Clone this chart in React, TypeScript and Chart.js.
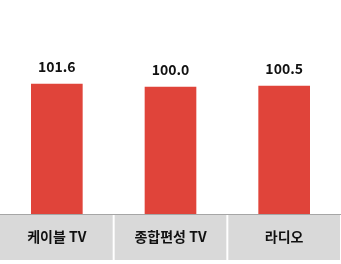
import React, { useEffect, useRef } from "react";
import { Chart, registerables } from "chart.js";

Chart.register(...registerables);

const categories: string[] = ["케이블 TV", "종합편성 TV", "라디오"];
const values: number[] = [101.6, 100.0, 100.5];
const valueLabels: string[] = ["101.6", "100.0", "100.5"];

const FONT = "'Noto Sans CJK KR', 'Noto Sans', sans-serif";

const cellPlugin = {
  id: "cells",
  beforeDraw(chart: any) {
    const x = chart.scales.x;
    const ctx = chart.ctx;
    const n = categories.length;
    const step = (x.right - x.left) / n;
    ctx.save();
    ctx.fillStyle = "#d9d9d9";
    for (let i = 0; i < n; i++) {
      const c = x.getPixelForValue(i);
      const l = c - step / 2 + (i === 0 ? 0 : 1);
      const r = c + step / 2 - 1;
      ctx.fillRect(l, x.top + 1, r - l, 45);
    }
    ctx.restore();
  },
  afterDatasetsDraw(chart: any) {
    const ctx = chart.ctx;
    const meta = chart.getDatasetMeta(0);
    ctx.save();
    ctx.fillStyle = "#111";
    ctx.font = `bold 14px ${FONT}`;
    ctx.textAlign = "center";
    ctx.textBaseline = "middle";
    meta.data.forEach((bar: any, i: number) => {
      ctx.fillText(valueLabels[i], bar.x, bar.y - 17);
    });
    ctx.restore();
  },
};

export default function App() {
  const ref = useRef<HTMLCanvasElement>(null);
  useEffect(() => {
    if (!ref.current) return;
    const chart = new Chart(ref.current, {
      type: "bar",
      data: {
        labels: categories,
        datasets: [
          {
            data: values,
            backgroundColor: "#e0443a",
            barThickness: 51,
          },
        ],
      },
      options: {
        animation: false,
        responsive: false,
        maintainAspectRatio: false,
        layout: { padding: 0 },
        plugins: { legend: { display: false }, tooltip: { enabled: false } },
        scales: {
          x: {
            grid: { display: false, drawTicks: false },
            border: { display: true, color: "#a6a6a6", width: 1 },
            ticks: {
              color: "#111",
              font: { family: FONT, size: 14, weight: "bold" },
              padding: 14,
            },
            afterFit(scale: any) {
              scale.height = 50;
            },
          },
          y: {
            display: false,
            min: 30,
            max: 148,
          },
        },
      },
      plugins: [cellPlugin],
    });
    return () => chart.destroy();
  }, []);
  return (
    <div style={{ position: "fixed", left: 0, top: 0, width: 341, height: 264, background: "#fff" }}>
      <canvas ref={ref} width={341} height={264} style={{ display: "block" }} />
    </div>
  );
}
